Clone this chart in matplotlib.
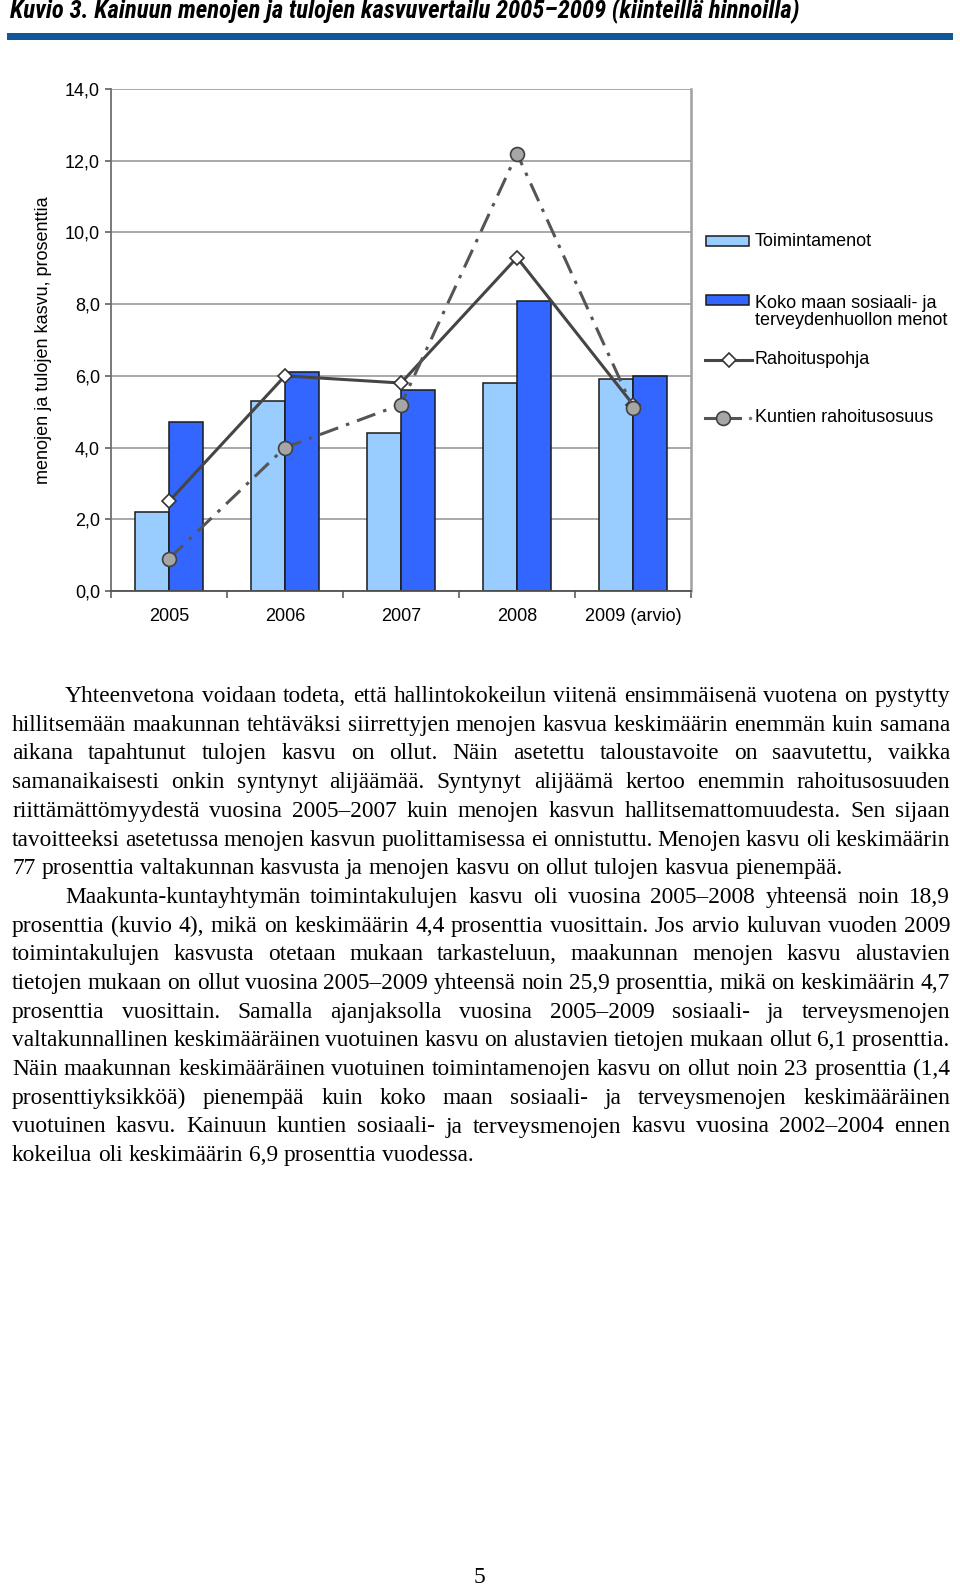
import matplotlib
matplotlib.use("Agg")
import matplotlib.pyplot as plt
from matplotlib import font_manager
from matplotlib.patches import Rectangle
from matplotlib.lines import Line2D

# ---------------- data ----------------
years = ["2005", "2006", "2007", "2008", "2009 (arvio)"]
toimintamenot = [2.2, 5.3, 4.4, 5.8, 5.9]
koko_maa = [4.7, 6.1, 5.6, 8.1, 6.0]
rahoituspohja = [2.5, 6.0, 5.8, 9.3, 5.2]
kuntien_osuus = [0.9, 4.0, 5.2, 12.2, 5.1]
yticks = [0, 2, 4, 6, 8, 10, 12, 14]
ytick_labels = ["0,0", "2,0", "4,0", "6,0", "8,0", "10,0", "12,0", "14,0"]
legend_labels = ["Toimintamenot", "Koko maan sosiaali- ja\nterveydenhuollon menot",
                 "Rahoituspohja", "Kuntien rahoitusosuus"]
title = "Kuvio 3. Kainuun menojen ja tulojen kasvuvertailu 2005\u20132009 (kiinteillä hinnoilla)"
ylabel = "menojen ja tulojen kasvu, prosenttia"

paragraphs = [
    ["Yhteenvetona voidaan todeta, että hallintokokeilun viitenä ensimmäisenä vuotena on pystytty",
     "hillitsemään maakunnan tehtäväksi siirrettyjen menojen kasvua keskimäärin enemmän kuin samana",
     "aikana tapahtunut tulojen kasvu on ollut. Näin asetettu taloustavoite on saavutettu, vaikka",
     "samanaikaisesti onkin syntynyt alijäämää. Syntynyt alijäämä kertoo enemmin rahoitusosuuden",
     "riittämättömyydestä vuosina 2005\u20132007 kuin menojen kasvun hallitsemattomuudesta. Sen sijaan",
     "tavoitteeksi asetetussa menojen kasvun puolittamisessa ei onnistuttu. Menojen kasvu oli keskimäärin",
     "77 prosenttia valtakunnan kasvusta ja menojen kasvu on ollut tulojen kasvua pienempää."],
    ["Maakunta-kuntayhtymän toimintakulujen kasvu oli vuosina 2005\u20132008 yhteensä noin 18,9",
     "prosenttia (kuvio 4), mikä on keskimäärin 4,4 prosenttia vuosittain. Jos arvio kuluvan vuoden 2009",
     "toimintakulujen kasvusta otetaan mukaan tarkasteluun, maakunnan menojen kasvu alustavien",
     "tietojen mukaan on ollut vuosina 2005\u20132009 yhteensä noin 25,9 prosenttia, mikä on keskimäärin 4,7",
     "prosenttia vuosittain. Samalla ajanjaksolla vuosina 2005\u20132009 sosiaali- ja terveysmenojen",
     "valtakunnallinen keskimääräinen vuotuinen kasvu on alustavien tietojen mukaan ollut 6,1 prosenttia.",
     "Näin maakunnan keskimääräinen vuotuinen toimintamenojen kasvu on ollut noin 23 prosenttia (1,4",
     "prosenttiyksikköä) pienempää kuin koko maan sosiaali- ja terveysmenojen keskimääräinen",
     "vuotuinen kasvu. Kainuun kuntien sosiaali- ja terveysmenojen kasvu vuosina 2002\u20132004 ennen",
     "kokeilua oli keskimäärin 6,9 prosenttia vuodessa."],
]
page_number = "5"

# ---------------- setup ----------------
plt.rcParams["lines.scale_dashes"] = False
W, H = 960, 1587
fig = plt.figure(figsize=(W / 100, H / 100), dpi=100)
renderer = fig.canvas.get_renderer()

sans = "Liberation Sans"
serif = "Liberation Serif"


def find_narrow():
    cands = [("Liberation Sans Narrow", "normal"), ("Arial Narrow", "normal"),
             ("Roboto Condensed", "normal"), ("Open Sans Condensed", "normal"),
             ("DejaVu Sans", "condensed")]
    for fam, stretch in cands:
        try:
            fp = font_manager.FontProperties(family=fam, stretch=stretch,
                                             weight="bold", style="italic")
            path = font_manager.findfont(fp, fallback_to_default=False)
            if stretch == "condensed" and "ondensed" not in path:
                continue
            return fam, stretch
        except Exception:
            continue
    return sans, "normal"


narrow, narrow_stretch = find_narrow()


def fx(px):
    return px / W


def fy(py):
    return 1 - py / H


def text_width(s, **kw):
    t = fig.text(0, 0, s, **kw)
    w = t.get_window_extent(renderer).width
    t.remove()
    return w


# ---------------- title ----------------
title_kw = dict(family=narrow, weight="bold", style="italic", fontstretch=narrow_stretch)
tsize = 15.0
tw = text_width(title, fontsize=tsize, **title_kw)
tsize = min(tsize * (852 / tw), 17.8)
fig.text(fx(10), fy(18), title, fontsize=tsize, ha="left", va="baseline", **title_kw)
fig.add_artist(Rectangle((fx(7), fy(40)), fx(953) - fx(7), 7 / H,
                         transform=fig.transFigure, color="#0f5799", lw=0))

# ---------------- chart ----------------
ax = fig.add_axes([fx(111), fy(591), fx(691) - fx(111), (591 - 89) / H])
x = list(range(len(years)))
bw = 0.29
ax.bar([i - bw / 2 for i in x], toimintamenot, width=bw, color="#99ccff",
       edgecolor="#1a1a1a", lw=1.1, zorder=2)
ax.bar([i + bw / 2 for i in x], koko_maa, width=bw, color="#3366ff",
       edgecolor="#1a1a1a", lw=1.1, zorder=2)
ax.plot(x, rahoituspohja, color="#454545", lw=2.2, marker="D", ms=7.5,
        mfc="white", mec="#333333", mew=1.2, zorder=3)
ax.plot(x, kuntien_osuus, color="#555555", lw=2.2, linestyle=(0, (14, 6, 2.5, 6)),
        marker="o", ms=10, mfc="#a6a6a6", mec="#404040", mew=1.2, zorder=4)

ax.set_xlim(-0.5, len(years) - 0.5)
ax.set_ylim(0, 14)
ax.set_yticks(yticks)
ax.set_yticklabels(ytick_labels, family=sans, fontsize=13)
ax.set_xticks(x)
ax.set_xticklabels(years, family=sans, fontsize=13)
ax.set_xticks([i + 0.5 for i in range(-1, len(years))], minor=True)
ax.tick_params(axis="x", which="major", length=0, pad=12)
ax.tick_params(axis="x", which="minor", length=5, width=1.2, color="#606060")
ax.tick_params(axis="y", length=4, width=1.2, color="#606060", pad=4)
ax.grid(axis="y", color="#9a9a9a", lw=1.2, zorder=0)
ax.set_axisbelow(True)
ax.spines["top"].set_visible(False)
ax.spines["right"].set_color("#a0a0a0")
ax.spines["right"].set_linewidth(1.8)
ax.spines["left"].set_color("#707070")
ax.spines["left"].set_linewidth(1.3)
ax.spines["bottom"].set_color("#505050")
ax.spines["bottom"].set_linewidth(1.3)
ax.set_ylabel(ylabel, family=sans, fontsize=13)
ax.yaxis.set_label_coords(-0.102, 0.5)

# ---------------- legend (manual, pixel coordinates) ----------------
lax = fig.add_axes([fx(695), fy(440), fx(960) - fx(695), (440 - 220) / H])
lax.set_xlim(695, 960)
lax.set_ylim(440, 220)
lax.axis("off")
lax.add_patch(Rectangle((706, 236), 43, 10, facecolor="#99ccff", edgecolor="#1a1a1a", lw=1.1))
lax.add_patch(Rectangle((706, 295), 43, 10, facecolor="#3366ff", edgecolor="#1a1a1a", lw=1.1))
lax.add_line(Line2D([705, 752], [360, 360], color="#454545", lw=2.2))
lax.add_line(Line2D([729], [360], marker="D", ms=7, mfc="white", mec="#333333", mew=1.2))
lax.add_line(Line2D([705, 740], [418, 418], color="#555555", lw=2.2))
lax.add_line(Line2D([723], [418], marker="o", ms=10, mfc="#a6a6a6", mec="#404040", mew=1.2))
lax.plot([750], [418], marker="o", ms=1.5, color="#777777")
leg_y = [241, 312, 360, 418]
for lab, yy in zip(legend_labels, leg_y):
    lax.text(755, yy, lab, family=sans, fontsize=13, ha="left", va="center",
             linespacing=1.05)

# ---------------- body text (justified) ----------------
body_size = 16.8
left, right = 12, 950
indent = 53
base0, step = 702, 28.7
space_w = (text_width("a a", family=serif, fontsize=body_size)
           - text_width("aa", family=serif, fontsize=body_size))

# shrink the font if the tightest justified line would not fit with normal spaces
all_lines = []
for para in paragraphs:
    for j, line in enumerate(para):
        all_lines.append((j == 0, line))
worst = 0
for first, line in all_lines:
    words = line.split(" ")
    nat = sum(text_width(w_, family=serif, fontsize=body_size) for w_ in words) \
        + space_w * 0.8 * (len(words) - 1)
    avail = right - left - (indent if first else 0)
    worst = max(worst, nat / avail)
if worst > 1:
    body_size /= worst
    space_w /= worst

line_no = 0
for para in paragraphs:
    for j, line in enumerate(para):
        y = base0 + step * line_no
        x0 = left + (indent if j == 0 else 0)
        words = line.split(" ")
        widths = [text_width(w_, family=serif, fontsize=body_size) for w_ in words]
        last = (j == len(para) - 1)
        if last or len(words) == 1:
            gap = space_w
        else:
            gap = (right - x0 - sum(widths)) / (len(words) - 1)
        cx = x0
        for w_, ww in zip(words, widths):
            fig.text(fx(cx), fy(y), w_, family=serif, fontsize=body_size,
                     ha="left", va="baseline")
            cx += ww + gap
        line_no += 1

fig.text(fx(479), fy(1583), page_number, family=serif, fontsize=17, ha="center", va="baseline")

fig.savefig("out.png", dpi=100)
